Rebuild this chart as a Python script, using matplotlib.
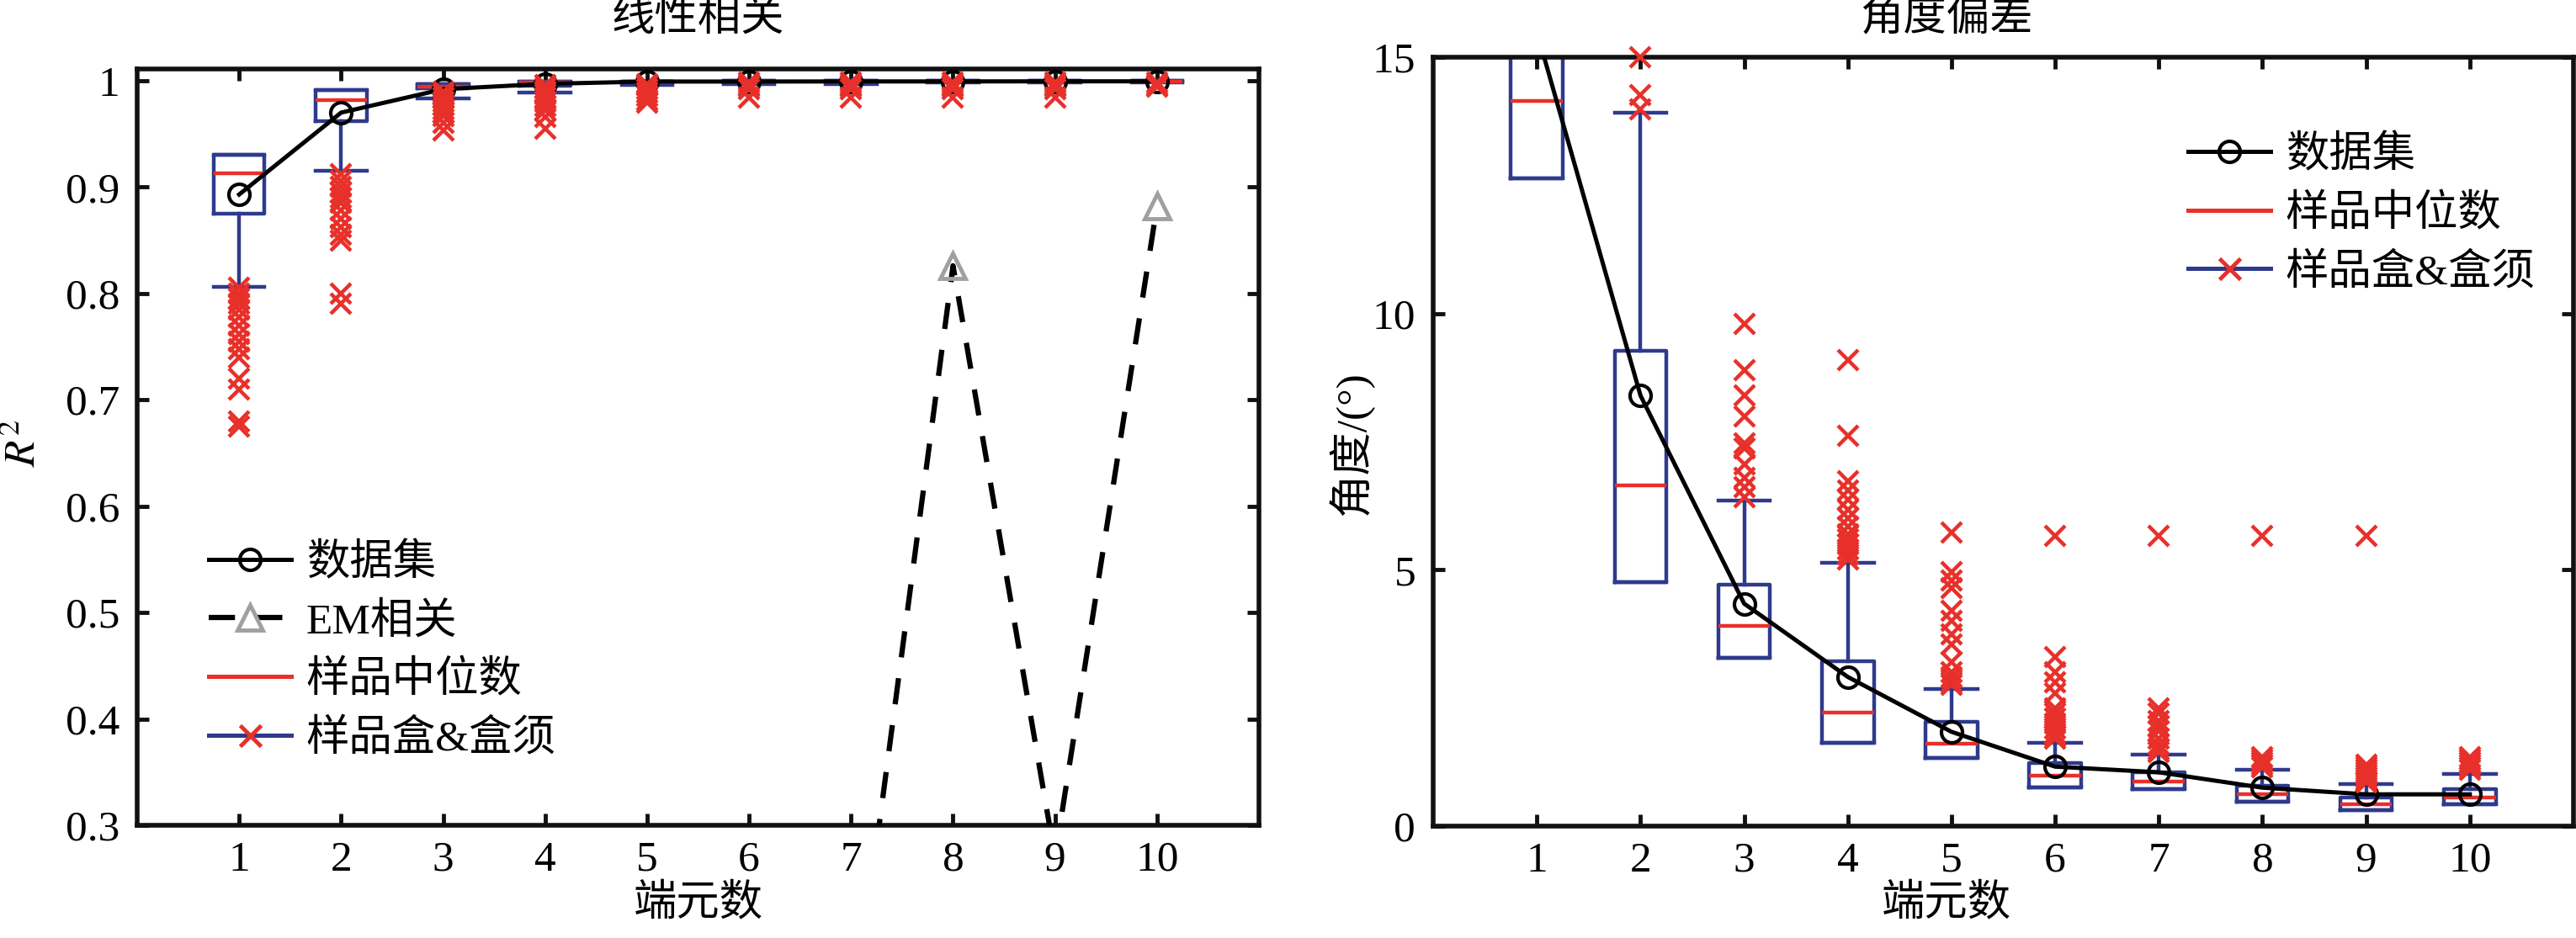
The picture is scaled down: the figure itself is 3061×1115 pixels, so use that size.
import matplotlib
matplotlib.use("Agg")
import matplotlib.pyplot as plt
from matplotlib.lines import Line2D
import numpy as np

plt.rcParams['font.family'] = ['Liberation Serif', 'Noto Sans CJK SC']
plt.rcParams['mathtext.fontset'] = 'stix'

# ---------------- data ----------------
n_em = [1, 2, 3, 4, 5, 6, 7, 8, 9, 10]
tick_labels = ['1', '2', '3', '4', '5', '6', '7', '8', '9', '10']

# left panel: linear correlation R^2
r2_dataset = [0.893, 0.970, 0.992, 0.997, 0.9992, 0.9992, 0.9993, 0.9993, 0.9994, 0.9994]
r2_q1 = [0.875, 0.962, 0.9929, 0.995, 0.998, 0.9985, 0.999, 0.999, 0.999, 0.999]
r2_med = [0.913, 0.9815, 0.9942, 0.998, 0.999, 0.999, 0.9993, 0.9994, 0.9995, 0.9995]
r2_q3 = [0.930, 0.9916, 0.9968, 0.9995, 0.9995, 0.9996, 0.9997, 0.9997, 0.9998, 0.9998]
r2_whislo = [0.806, 0.915, 0.983, 0.989, 0.996, 0.997, 0.997, 0.998, 0.998, 0.998]
r2_whishi = [0.930, 0.9916, 0.9968, 0.9995, 0.9995, 0.9996, 0.9997, 0.9997, 0.9998, 0.9998]
r2_fliers = [
    [0.805, 0.800, 0.795, 0.790, 0.785, 0.778, 0.770, 0.762, 0.755, 0.748, 0.740, 0.720, 0.710, 0.680, 0.675],
    [0.912, 0.906, 0.900, 0.895, 0.890, 0.885, 0.878, 0.870, 0.862, 0.855, 0.850, 0.800, 0.790],
    [0.990, 0.987, 0.984, 0.980, 0.977, 0.973, 0.970, 0.967, 0.960, 0.953],
    [0.996, 0.993, 0.990, 0.987, 0.984, 0.980, 0.976, 0.972, 0.966, 0.955],
    [0.997, 0.995, 0.992, 0.989, 0.986, 0.982, 0.979],
    [0.998, 0.996, 0.994, 0.992, 0.984],
    [0.998, 0.996, 0.994, 0.992, 0.984],
    [0.998, 0.996, 0.994, 0.992, 0.984],
    [0.998, 0.996, 0.994, 0.992, 0.984],
    [0.998, 0.996, 0.994],
]
em_x = [7, 8, 9, 10]
em_r2 = [0.10, 0.826, 0.27, 0.882]

# right panel: angle deviation (degrees)
ang_dataset = [15.5, 8.40, 4.34, 2.91, 1.84, 1.16, 1.05, 0.75, 0.62, 0.62]
ang_q1 = [12.63, 4.76, 3.28, 1.63, 1.33, 0.76, 0.72, 0.48, 0.31, 0.43]
ang_med = [14.14, 6.65, 3.90, 2.21, 1.61, 0.98, 0.87, 0.62, 0.43, 0.56]
ang_q3 = [17.0, 9.27, 4.71, 3.21, 2.03, 1.23, 1.05, 0.78, 0.56, 0.73]
ang_whislo = [12.63, 4.76, 3.28, 1.63, 1.33, 0.76, 0.72, 0.48, 0.31, 0.43]
ang_whishi = [20.0, 13.92, 6.35, 5.13, 2.68, 1.63, 1.39, 1.10, 0.82, 1.01]
ang_fliers = [
    [],
    [15.0, 14.26, 13.98],
    [9.79, 8.89, 8.40, 7.99, 7.46, 7.37, 7.05, 6.80, 6.61, 6.42],
    [9.10, 7.62, 6.73, 6.54, 6.36, 6.17, 6.00, 5.85, 5.70, 5.60, 5.50, 5.40, 5.30, 5.20],
    [5.73, 4.95, 4.80, 4.65, 4.20, 4.00, 3.75, 3.55, 3.20, 3.00, 2.90, 2.80, 2.75],
    [5.66, 3.30, 3.00, 2.80, 2.60, 2.30, 2.20, 2.10, 2.00, 1.90, 1.80, 1.75, 1.70],
    [5.66, 2.30, 2.20, 2.05, 1.95, 1.85, 1.70, 1.60, 1.50, 1.45],
    [5.66, 1.35, 1.30, 1.25, 1.20, 1.15],
    [5.66, 1.20, 1.15, 1.10, 1.05, 1.00, 0.95, 0.90, 0.85],
    [1.35, 1.30, 1.25, 1.20, 1.15, 1.10],
]

labels_left = ['数据集', 'EM相关', '样品中位数', '样品盒&盒须']
labels_right = ['数据集', '样品中位数', '样品盒&盒须']

# ---------------- style ----------------
BLUE = '#2E3A8C'
RED = '#E8302A'
GRAY = '#A0A0A0'
FS_TICK = 37
FS_CJK = 37
LW_BOX = 3.2
LW_LINE = 3.6

W, H = 3061, 1115
fig = plt.figure(figsize=(W / 100, H / 100), dpi=100)
ax1 = fig.add_axes([163 / W, 1 - 981 / H, (1496 - 163) / W, (981 - 82) / H])
ax2 = fig.add_axes([1703 / W, 1 - 982 / H, (3058 - 1703) / W, (982 - 68) / H])


def make_stats(q1, med, q3, wlo, whi, fl):
    out = []
    for i in range(len(q1)):
        out.append(dict(q1=q1[i], med=med[i], q3=q3[i], whislo=wlo[i], whishi=whi[i],
                        fliers=np.array(fl[i], dtype=float)))
    return out


def draw_box(ax, stats):
    res = ax.bxp(stats, positions=n_em, widths=0.5, capwidths=0.5, showfliers=True,
                 manage_ticks=False,
                 boxprops=dict(color=BLUE, lw=LW_BOX),
                 whiskerprops=dict(color=BLUE, lw=LW_BOX, ls='-'),
                 capprops=dict(color=BLUE, lw=LW_BOX),
                 medianprops=dict(color=RED, lw=LW_BOX),
                 flierprops=dict(marker='x', markeredgecolor=RED, markersize=17,
                                 markeredgewidth=3.2, linestyle='none'))
    for f in res['fliers']:
        f.set_zorder(5)
        f.set_clip_on(False)
    return res


def style_axes(ax):
    for s in ax.spines.values():
        s.set_linewidth(4)
        s.set_color('#111111')
    ax.tick_params(direction='in', length=10, width=3.5, top=True, right=True,
                   labelsize=FS_TICK, color='#111111')
    ax.tick_params(axis='x', pad=13)
    ax.tick_params(axis='y', pad=15)
    ax.set_xlim(0, 11)
    ax.set_xticks(n_em)
    ax.set_xticklabels(tick_labels)


# ---- left ----
draw_box(ax1, make_stats(r2_q1, r2_med, r2_q3, r2_whislo, r2_whishi, r2_fliers))
ax1.plot(n_em, r2_dataset, color='black', lw=LW_LINE, marker='o', ms=18, mfc='none',
         mec='black', mew=3, zorder=4)
ax1.plot(em_x, em_r2, color='black', lw=4.5, ls=(0, (5, 4)), marker='^', ms=21,
         mfc='none', mec=GRAY, mew=3.5, zorder=4)
ax1.set_ylim(0.3, 1.011)
ax1.set_yticks([0.3, 0.4, 0.5, 0.6, 0.7, 0.8, 0.9, 1.0])
ax1.set_yticklabels(['0.3', '0.4', '0.5', '0.6', '0.7', '0.8', '0.9', '1'])
style_axes(ax1)
ax1.set_title('线性相关', fontsize=FS_CJK, y=(981 - 23) / 899, pad=0, va='center')
ax1.set_xlabel('端元数', fontsize=FS_CJK, va='center')
ax1.xaxis.set_label_coords(0.5, (981 - 1074) / 899)
ax1.set_ylabel(r'$R^2$', fontsize=FS_TICK, va='center')
ax1.yaxis.set_label_coords((29 - 163) / 1333, (981 - 527) / 899)

h_data = Line2D([], [], color='black', lw=LW_LINE, marker='o', ms=18, mfc='none', mec='black', mew=3)
h_em = Line2D([], [], color='black', lw=4.5, ls=(0, (5, 4)), marker='^', ms=21, mfc='none', mec=GRAY, mew=3.5)
h_med = Line2D([], [], color=RED, lw=LW_LINE)
h_box = Line2D([], [], color=BLUE, lw=LW_LINE, marker='x', ms=18, mec=RED, mew=3.5)

ax1.legend([h_data, h_em, h_med, h_box], labels_left, loc='upper left',
           bbox_to_anchor=((248 - 163) / 1333, (981 - 646) / 899), frameon=False,
           fontsize=FS_CJK, handlelength=1.9, handletextpad=0.35, labelspacing=0.42,
           borderpad=0, borderaxespad=0, numpoints=1)

# ---- right ----
draw_box(ax2, make_stats(ang_q1, ang_med, ang_q3, ang_whislo, ang_whishi, ang_fliers))
ax2.plot(n_em, ang_dataset, color='black', lw=LW_LINE, marker='o', ms=18, mfc='none',
         mec='black', mew=3, zorder=4)
ax2.set_ylim(0, 15)
ax2.set_yticks([0, 5, 10, 15])
style_axes(ax2)
ax2.set_title('角度偏差', fontsize=FS_CJK, x=(2313 - 1703) / 1355, y=(982 - 23) / 914,
              pad=0, va='center')
ax2.set_xlabel('端元数', fontsize=FS_CJK, va='center')
ax2.xaxis.set_label_coords((2313 - 1703) / 1355, (982 - 1074) / 914)
ax2.set_ylabel('角度/(°)', fontsize=FS_CJK, va='center')
ax2.yaxis.set_label_coords((1605 - 1703) / 1355, (982 - 527) / 914)

ax2.legend([h_data, h_med, h_box], labels_right, loc='upper left',
           bbox_to_anchor=((2600 - 1703) / 1355, (982 - 161) / 914), frameon=False,
           fontsize=FS_CJK, handlelength=1.9, handletextpad=0.35, labelspacing=0.42,
           borderpad=0, borderaxespad=0, numpoints=1)

fig.savefig('out.png', dpi=100)
